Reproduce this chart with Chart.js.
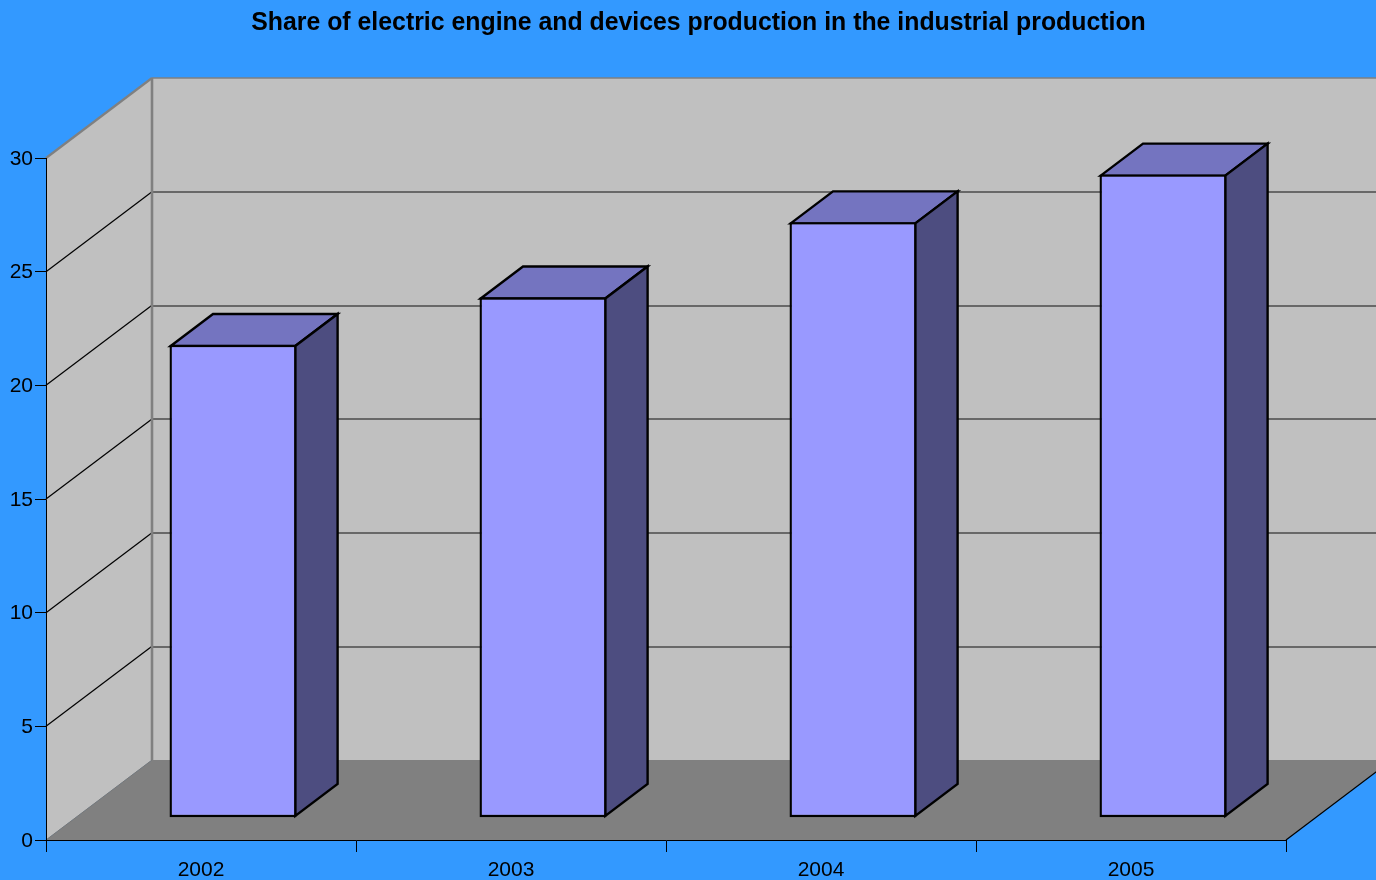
<!DOCTYPE html>
<html>
<head>
<meta charset="utf-8">
<title>Share of electric engine and devices production</title>
<style>html,body{margin:0;padding:0;background:#3399FF;overflow:hidden}canvas{display:block}</style>
<script src="https://cdn.jsdelivr.net/npm/chart.js@4"></script>
</head>
<body>
<canvas id="c" width="1376" height="880"></canvas>
<script>
const chartTitle = "Share of electric engine and devices production in the industrial production";
const categories = ["2002", "2003", "2004", "2005"];
const shares = [20.73, 22.82, 26.12, 28.22];
const yTicks = [0, 5, 10, 15, 20, 25, 30];

const FONT = "'Liberation Sans', Arial, sans-serif";
const WALL_DX = 106, WALL_DY = 80;
const BAR_SHIFT_X = 32, BAR_SHIFT_Y = 24;
const SIDE_DX = 42.3, SIDE_DY = 32;
const BAR_LINE = 2.4;

function poly(ctx, pts, fill, stroke, lw) {
  ctx.beginPath();
  pts.forEach((p, i) => i ? ctx.lineTo(p[0], p[1]) : ctx.moveTo(p[0], p[1]));
  ctx.closePath();
  if (fill) { ctx.fillStyle = fill; ctx.fill(); }
  if (stroke) { ctx.strokeStyle = stroke; ctx.lineWidth = lw; ctx.lineJoin = 'miter'; ctx.stroke(); }
}
function seg(ctx, x1, y1, x2, y2, color, lw) {
  ctx.beginPath(); ctx.moveTo(x1, y1); ctx.lineTo(x2, y2);
  ctx.strokeStyle = color; ctx.lineWidth = lw; ctx.stroke();
}

const scene3d = {
  id: 'scene3d',
  afterLayout(chart) {
    chart.titleBlock.left = 21;
    chart.titleBlock.right = 1376;
    chart.scales.y.getLabelItems().forEach(item => { item.options.translation[1] += 1; });
  },
  beforeDraw(chart) {
    const ctx = chart.ctx, a = chart.chartArea, W = chart.width;
    const y = chart.scales.y;
    ctx.save();
    ctx.fillStyle = '#3399FF';
    ctx.fillRect(0, 0, W, chart.height);
    const L = a.left, R = a.right, T = a.top, B = a.bottom;
    const bx = L + WALL_DX, ty = T - WALL_DY, by = B - WALL_DY;
    // back wall
    ctx.fillStyle = '#C0C0C0';
    ctx.fillRect(bx, ty, W - bx, by - ty);
    // side wall
    poly(ctx, [[L, T], [bx, ty], [bx, by], [L, B]], '#C0C0C0');
    // floor
    poly(ctx, [[L, B], [bx, by], [R + WALL_DX, by], [R, B]], '#808080');
    // grid lines on side wall and back wall
    yTicks.forEach(t => {
      if (t === 0 || t === 30) return;
      const p = y.getPixelForValue(t);
      seg(ctx, L, p, bx, p - WALL_DY, '#000000', 1.2);
      const gy = Math.round(p - WALL_DY + 0.3);
      seg(ctx, bx, gy, W, gy, '#111111', 1.1);
    });
    // wall outlines
    seg(ctx, L, T, bx, ty, '#808080', 2.2);
    seg(ctx, bx, ty, W, ty, '#808080', 1.6);
    seg(ctx, bx, ty, bx, by, '#808080', 2.6);
    seg(ctx, L, B, bx, by, '#787878', 1);
    // right floor edge
    seg(ctx, R, B, R + WALL_DX, by, '#000000', 1.2);
    ctx.restore();
  },
  beforeDatasetDraw(chart) {
    const ctx = chart.ctx;
    const bars = chart.getDatasetMeta(0).data;
    const inset = BAR_LINE / 2;
    ctx.save();
    ctx.translate(BAR_SHIFT_X, -BAR_SHIFT_Y);
    bars.forEach(b => {
      const l = b.x - b.width / 2 + inset, r = b.x + b.width / 2 - inset;
      const t = b.y + inset, bot = b.base - inset;
      poly(ctx, [[l, t], [l + SIDE_DX, t - SIDE_DY], [r + SIDE_DX, t - SIDE_DY], [r, t]], '#7474C0', '#000000', BAR_LINE);
      poly(ctx, [[r, t], [r + SIDE_DX, t - SIDE_DY], [r + SIDE_DX, bot - SIDE_DY], [r, bot]], '#4D4D80', '#000000', BAR_LINE);
    });
  },
  afterDatasetDraw(chart) {
    chart.ctx.restore();
  }
};

new Chart(document.getElementById('c'), {
  type: 'bar',
  data: {
    labels: categories,
    datasets: [{
      data: shares,
      base: -0.05,
      backgroundColor: '#9999FF',
      borderColor: '#000000',
      borderWidth: BAR_LINE,
      borderSkipped: false,
      barPercentage: 0.4097,
      categoryPercentage: 1,
      clip: false
    }]
  },
  options: {
    responsive: false,
    animation: false,
    devicePixelRatio: 1,
    layout: { padding: { left: 0, right: 90, top: 0, bottom: 0 } },
    plugins: {
      legend: { display: false },
      tooltip: { enabled: false },
      title: {
        display: true,
        text: chartTitle,
        color: '#000000',
        font: { family: FONT, size: 24.85, weight: 'bold', lineHeight: 1.2 },
        padding: { top: 8, bottom: 120.18 }
      }
    },
    scales: {
      x: {
        afterFit(s) { s.height = 40; },
        offset: true,
        border: { display: true, color: '#000000', width: 1 },
        grid: { offset: true, drawOnChartArea: false, color: '#000000', tickColor: '#000000', tickLength: 12, lineWidth: 1 },
        ticks: { color: '#000000', maxRotation: 0, padding: 6, font: { family: FONT, size: 21 } }
      },
      y: {
        min: 0,
        max: 30,
        afterFit(s) { s.width = 46; },
        afterBuildTicks(s) { s.ticks = yTicks.map(v => ({ value: v })); },
        border: { display: true, color: '#000000', width: 1 },
        grid: { drawOnChartArea: false, color: '#000000', tickColor: '#000000', tickLength: 11, lineWidth: 1 },
        ticks: { color: '#000000', padding: 2, font: { family: FONT, size: 21 } }
      }
    }
  },
  plugins: [scene3d]
});
</script>
</body>
</html>
